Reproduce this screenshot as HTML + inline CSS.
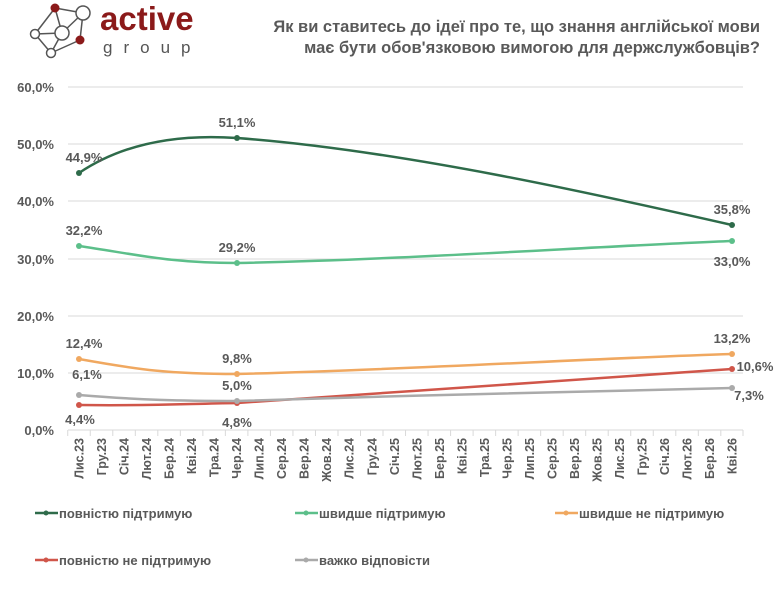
<!DOCTYPE html>
<html><head><meta charset="utf-8"><style>
body{margin:0;background:#fff;width:780px;height:585px;overflow:hidden;font-family:"Liberation Sans",sans-serif;}
</style></head><body>
<svg width="780" height="585" viewBox="0 0 780 585" xmlns="http://www.w3.org/2000/svg" font-family="Liberation Sans, sans-serif">
<g stroke="#555" stroke-width="1.5" fill="#fff">
<line x1="55" y1="8" x2="83" y2="13"/><line x1="55" y1="8" x2="35" y2="34"/><line x1="83" y1="13" x2="62" y2="33"/><line x1="83" y1="13" x2="80" y2="40"/><line x1="35" y1="34" x2="62" y2="33"/><line x1="35" y1="34" x2="51" y2="53"/><line x1="62" y1="33" x2="51" y2="53"/><line x1="80" y1="40" x2="51" y2="53"/><line x1="55" y1="8" x2="62" y2="33"/>
<circle cx="83" cy="13" r="7"/><circle cx="62" cy="33" r="7"/><circle cx="35" cy="34" r="4.5"/><circle cx="51" cy="53" r="4.5"/>
</g>
<circle cx="55" cy="8" r="4.5" fill="#8b1a1a"/><circle cx="80" cy="40" r="4.5" fill="#8b1a1a"/>
<text x="100" y="30" font-size="33" font-weight="bold" fill="#8b1a1a">active</text>
<text x="103" y="53" font-size="17" fill="#555" letter-spacing="11">group</text>
<text x="760" y="32" font-size="16.5" font-weight="bold" fill="#595959" text-anchor="end">Як ви ставитесь до ідеї про те, що знання англійської мови</text>
<text x="760" y="53" font-size="16.5" font-weight="bold" fill="#595959" text-anchor="end">має бути обов'язковою вимогою для держслужбовців?</text>
<g stroke="#d9d9d9" stroke-width="1">
<line x1="68" y1="87" x2="743" y2="87"/><line x1="68" y1="144" x2="743" y2="144"/><line x1="68" y1="201" x2="743" y2="201"/><line x1="68" y1="259" x2="743" y2="259"/><line x1="68" y1="316" x2="743" y2="316"/><line x1="68" y1="373" x2="743" y2="373"/><line x1="68" y1="430" x2="743" y2="430"/>
</g>
<g font-size="13" font-weight="bold" fill="#595959" text-anchor="end">
<text x="54" y="92">60,0%</text><text x="54" y="149">50,0%</text><text x="54" y="206">40,0%</text><text x="54" y="264">30,0%</text><text x="54" y="321">20,0%</text><text x="54" y="378">10,0%</text><text x="54" y="435">0,0%</text>
</g>
<g id="ticks" stroke="#d9d9d9"></g>
<g id="xl" font-size="12.5" font-weight="bold" fill="#595959"></g>
<g fill="none" stroke-width="2.5">
<path d="M79 173 C125 142 180 134 237 138 C400 150 600 195 732 225" stroke="#2e6b4a"/>
<path d="M79 246 C140 255 170 263 237 263 C400 260 600 246 732 241" stroke="#5cbf8a"/>
<path d="M79 359 C140 370 170 374 237 374 C400 370 600 358 732 354" stroke="#f0a860"/>
<path d="M79 405 C150 406 180 404 237 403 C400 392 600 378 732 369" stroke="#d0564a"/>
<path d="M79 395 C140 400 180 401 237 401 C400 396 600 390 732 388" stroke="#aaaaaa"/>
</g>
<g>
<circle cx="79" cy="173" r="3" fill="#2e6b4a"/><circle cx="237" cy="138" r="3" fill="#2e6b4a"/><circle cx="732" cy="225" r="3" fill="#2e6b4a"/>
<circle cx="79" cy="246" r="3" fill="#5cbf8a"/><circle cx="237" cy="263" r="3" fill="#5cbf8a"/><circle cx="732" cy="241" r="3" fill="#5cbf8a"/>
<circle cx="79" cy="359" r="3" fill="#f0a860"/><circle cx="237" cy="374" r="3" fill="#f0a860"/><circle cx="732" cy="354" r="3" fill="#f0a860"/>
<circle cx="79" cy="405" r="3" fill="#d0564a"/><circle cx="237" cy="403" r="3" fill="#d0564a"/><circle cx="732" cy="369" r="3" fill="#d0564a"/>
<circle cx="79" cy="395" r="3" fill="#aaaaaa"/><circle cx="237" cy="401" r="3" fill="#aaaaaa"/><circle cx="732" cy="388" r="3" fill="#aaaaaa"/>
</g>
<g font-size="13" font-weight="bold" fill="#595959" text-anchor="middle">
<text x="84" y="162">44,9%</text><text x="237" y="127">51,1%</text><text x="732" y="214">35,8%</text>
<text x="84" y="235">32,2%</text><text x="237" y="252">29,2%</text><text x="732" y="266">33,0%</text>
<text x="84" y="348">12,4%</text><text x="237" y="363">9,8%</text><text x="732" y="343">13,2%</text>
<text x="87" y="379">6,1%</text><text x="237" y="390">5,0%</text><text x="749" y="400">7,3%</text>
<text x="80" y="424">4,4%</text><text x="237" y="427">4,8%</text><text x="755" y="371">10,6%</text>
</g>
<g stroke-width="2.5">
<line x1="35" y1="513" x2="58" y2="513" stroke="#2e6b4a"/><circle cx="46" cy="513" r="2.5" fill="#2e6b4a"/>
<line x1="295" y1="513" x2="318" y2="513" stroke="#5cbf8a"/><circle cx="306" cy="513" r="2.5" fill="#5cbf8a"/>
<line x1="555" y1="513" x2="578" y2="513" stroke="#f0a860"/><circle cx="566" cy="513" r="2.5" fill="#f0a860"/>
<line x1="35" y1="560" x2="58" y2="560" stroke="#d0564a"/><circle cx="46" cy="560" r="2.5" fill="#d0564a"/>
<line x1="295" y1="560" x2="318" y2="560" stroke="#aaaaaa"/><circle cx="306" cy="560" r="2.5" fill="#aaaaaa"/>
</g>
<g font-size="13" font-weight="bold" fill="#595959">
<text x="59" y="518">повністю підтримую</text><text x="319" y="518">швидше підтримую</text><text x="579" y="518">швидше не підтримую</text>
<text x="59" y="565">повністю не підтримую</text><text x="319" y="565">важко відповісти</text>
</g>
<script>
var L="Лис.23 Гру.23 Січ.24 Лют.24 Бер.24 Кві.24 Тра.24 Чер.24 Лип.24 Сер.24 Вер.24 Жов.24 Лис.24 Гру.24 Січ.25 Лют.25 Бер.25 Кві.25 Тра.25 Чер.25 Лип.25 Сер.25 Вер.25 Жов.25 Лис.25 Гру.25 Січ.26 Лют.26 Бер.26 Кві.26".split(" ");
var ns="http://www.w3.org/2000/svg",g=document.getElementById("xl"),t=document.getElementById("ticks");
for(var i=0;i<30;i++){var x=79+i*22.52;var e=document.createElementNS(ns,"text");e.setAttribute("transform","translate("+(x+4.5)+",438) rotate(-90)");e.setAttribute("text-anchor","end");e.textContent=L[i];g.appendChild(e);
var l=document.createElementNS(ns,"line");var tx=x-11.26;l.setAttribute("x1",tx);l.setAttribute("x2",tx);l.setAttribute("y1",430);l.setAttribute("y2",436);t.appendChild(l);}
var l=document.createElementNS(ns,"line");l.setAttribute("x1",743);l.setAttribute("x2",743);l.setAttribute("y1",430);l.setAttribute("y2",436);t.appendChild(l);
</script>
</svg>
</body></html>
